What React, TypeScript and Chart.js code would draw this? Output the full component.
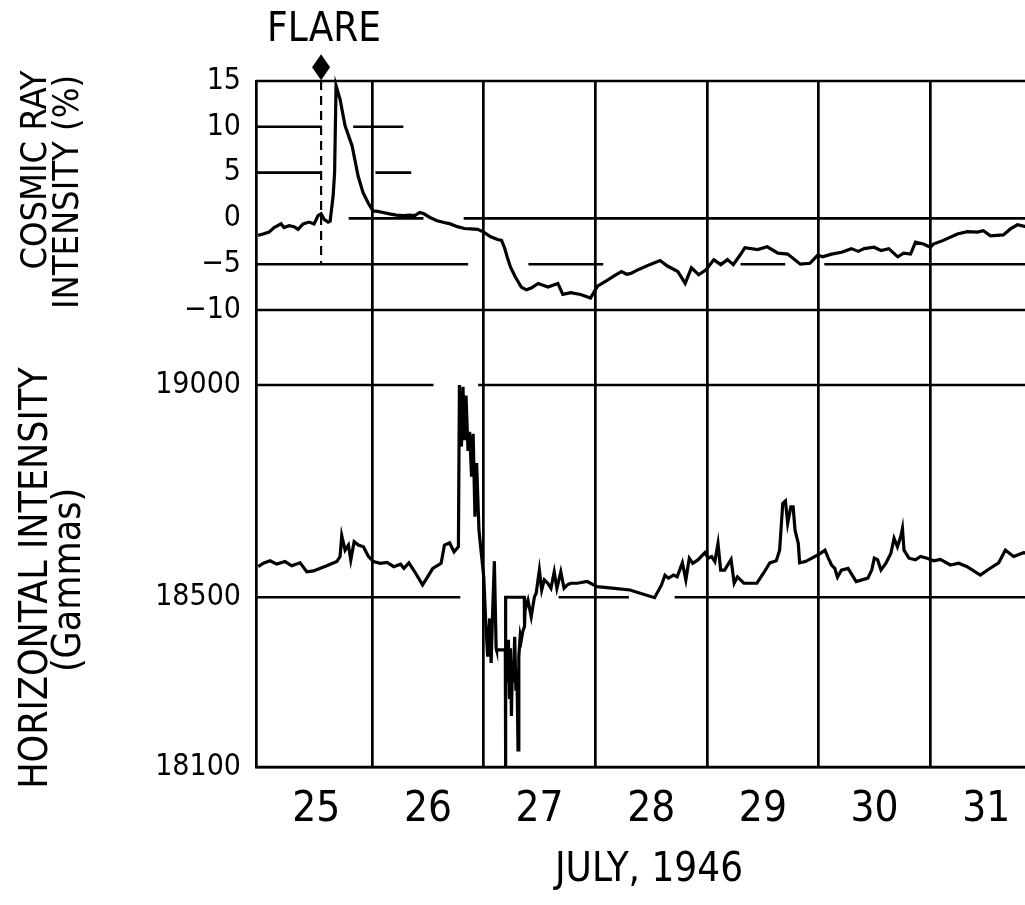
import React, { useEffect, useRef } from 'react';
import { Chart, registerables } from 'chart.js';

Chart.register(...registerables);

// ---------- data ----------
const dayLabelValues = [25.5, 26.5, 27.5, 28.5, 29.5, 30.5, 31.5];
const dayBoundaries = [26, 27, 28, 29, 30, 31];
const cosmicTicks = [15, 10, 5, 0, -5, -10];
const gammaTicks = [19000, 18500, 18100];
const FLARE_DAY = 25.543;
const FLARE_MARK_LEVEL = 16.5;

const cosmicDays = [
  24.979, 25.023, 25.077, 25.122, 25.185, 25.211, 25.256, 25.301, 25.337, 25.382,
  25.435, 25.48, 25.516, 25.543, 25.57, 25.606, 25.624, 25.651, 25.664, 25.677,
  25.713, 25.758, 25.821, 25.875, 25.919, 25.964, 26.009, 26.036, 26.1, 26.155,
  26.218, 26.282, 26.336, 26.382, 26.427, 26.464, 26.518, 26.582, 26.645, 26.7,
  26.764, 26.827, 26.882, 26.945, 27.0, 27.062, 27.124, 27.159, 27.186, 27.212,
  27.239, 27.283, 27.336, 27.381, 27.425, 27.487, 27.575, 27.664, 27.708, 27.779,
  27.867, 27.956, 28.019, 28.112, 28.178, 28.234, 28.28, 28.318, 28.383, 28.486,
  28.579, 28.645, 28.738, 28.804, 28.86, 28.925, 28.991, 29.061, 29.122, 29.183,
  29.235, 29.296, 29.339, 29.452, 29.539, 29.635, 29.722, 29.835, 29.922, 29.991,
  30.035, 30.115, 30.204, 30.292, 30.354, 30.407, 30.496, 30.558, 30.628, 30.708,
  30.761, 30.823, 30.867, 30.938, 31.0, 31.027, 31.116, 31.242, 31.332, 31.421,
  31.475, 31.538, 31.654, 31.717, 31.78, 31.851, 32.0,
];
const cosmicPct = [
  -1.85, -1.7, -1.5, -1.0, -0.6, -1.0, -0.8, -0.9, -1.2, -0.6,
  -0.4, -0.6, 0.3, 0.5, -0.1, -0.4, -0.3, 2.5, 5.0, 14.5,
  13.0, 10.1, 7.9, 4.6, 2.8, 1.7, 0.8, 0.8, 0.65, 0.5,
  0.35, 0.3, 0.35, 0.3, 0.65, 0.5, 0.1, -0.25, -0.45, -0.6,
  -0.9, -1.1, -1.15, -1.2, -1.5, -2.0, -2.3, -2.4, -3.2, -4.3,
  -5.3, -6.4, -7.5, -7.8, -7.6, -7.1, -7.5, -7.1, -8.3, -8.1,
  -8.3, -8.7, -7.4, -6.7, -6.2, -5.8, -6.1, -6.0, -5.6, -5.05,
  -4.6, -5.2, -5.8, -7.1, -5.4, -6.15, -5.6, -4.5, -5.05, -4.5,
  -5.05, -4.0, -3.2, -3.4, -3.1, -3.8, -3.9, -5.0, -4.9, -4.0,
  -4.2, -3.9, -3.7, -3.3, -3.6, -3.3, -3.15, -3.5, -3.3, -4.2,
  -3.8, -3.9, -2.6, -2.8, -3.15, -2.8, -2.4, -1.7, -1.45, -1.5,
  -1.35, -1.9, -1.8, -1.15, -0.7, -0.9, -0.8,
];

const gammaDays = [
  24.98, 25.026, 25.086, 25.146, 25.22, 25.28, 25.355, 25.415, 25.474, 25.594,
  25.684, 25.713, 25.728, 25.758, 25.788, 25.809, 25.839, 25.877, 25.922, 25.967,
  26.012, 26.073, 26.134, 26.194, 26.255, 26.285, 26.33, 26.391, 26.452, 26.497,
  26.543, 26.618, 26.648, 26.694, 26.734, 26.773, 26.782, 26.8, 26.814, 26.827,
  26.841, 26.859, 26.873, 26.891, 26.905, 26.921, 26.936, 26.957, 26.975, 27.0,
  27.018, 27.035, 27.053, 27.066, 27.08, 27.095, 27.111, 27.115, 27.193, 27.195,
  27.197, 27.363, 27.365, 27.365,
  27.204, 27.212, 27.221, 27.23, 27.239, 27.248, 27.257, 27.265, 27.277, 27.288,
  27.297, 27.307, 27.314, 27.327, 27.336, 27.35, 27.365, 27.37, 27.396, 27.425,
  27.454, 27.469, 27.498, 27.519, 27.542, 27.573, 27.602, 27.631, 27.655, 27.69,
  27.719, 27.749, 27.779, 27.838, 27.926, 28.016, 28.171, 28.311, 28.358, 28.53,
  28.592, 28.623, 28.654, 28.701, 28.732, 28.779, 28.81, 28.841, 28.872, 28.918,
  28.981, 29.011, 29.041, 29.07, 29.098, 29.122, 29.157, 29.215, 29.243, 29.272,
  29.33, 29.446, 29.504, 29.562, 29.62, 29.65, 29.678, 29.702, 29.722, 29.75,
  29.771, 29.788, 29.817, 29.829, 29.881, 29.939, 30.012, 30.056, 30.086, 30.115,
  30.144, 30.168, 30.204, 30.263, 30.336, 30.44, 30.475, 30.498, 30.528, 30.558,
  30.602, 30.646, 30.675, 30.705, 30.735, 30.75, 30.764, 30.808, 30.867, 30.912,
  30.971, 31.03, 31.09, 31.179, 31.254, 31.329, 31.448, 31.522, 31.612, 31.672,
  31.746, 31.836, 32.0,
];
const gammaValues: (number | null)[] = [
  18572, 18580, 18586, 18578, 18584, 18574, 18581, 18560, 18562, 18574,
  18584, 18596, 18645, 18611, 18623, 18588, 18631, 18623, 18619, 18596,
  18584, 18580, 18582, 18572, 18578, 18568, 18581, 18556, 18529, 18548,
  18568, 18580, 18623, 18628, 18607, 18619, 19000, 18855, 18996, 18870,
  18975, 18845, 18890, 18784, 18885, 18690, 18816, 18658, 18611, 18548,
  18440, 18360, 18450, 18345, 18470, 18585, 18380, 18376, 18376, 18100,
  18500, 18500, 18440, null,
  18380, 18300, 18400, 18260, 18380, 18220, 18350, 18300, 18407, 18280,
  18330, 18140, 18360, 18410, 18399, 18420, 18431, 18470, 18493, 18454,
  18501, 18509, 18564, 18517, 18541, 18533, 18521, 18560, 18521, 18560,
  18521, 18529, 18533, 18533, 18537, 18525, 18521, 18517, 18513, 18499,
  18529, 18552, 18545, 18552, 18548, 18581, 18541, 18592, 18580, 18588,
  18605, 18592, 18596, 18584, 18627, 18564, 18564, 18589, 18533, 18548,
  18533, 18533, 18556, 18581, 18586, 18611, 18721, 18727, 18674, 18713,
  18713, 18658, 18627, 18581, 18584, 18592, 18603, 18611, 18592, 18576,
  18568, 18547, 18564, 18568, 18537, 18545, 18564, 18592, 18588, 18564,
  18580, 18603, 18639, 18619, 18643, 18662, 18611, 18592, 18588, 18596,
  18592, 18586, 18589, 18576, 18580, 18572, 18552, 18566, 18581, 18611,
  18596, 18605, 18600,
];

// ruled lines of the original chart paper: [level, fromDay, toDay]
const cosmicRules: [number, number, number][] = [
  [15, 24.96, 32], [10, 24.96, 25.55], [10, 25.83, 26.28], [5, 24.96, 25.55], [5, 26.03, 26.35],
  [0, 25.79, 26.46], [0, 26.82, 32], [-5, 24.96, 26.86], [-5, 27.4, 28.07], [-5, 29.3, 29.7],
  [-5, 30.05, 32], [-10, 24.96, 32],
];
const gammaRules: [number, number, number][] = [
  [19000, 24.96, 26.55], [19000, 26.95, 32], [18500, 24.96, 26.79], [18500, 27.67, 28.3],
  [18500, 28.71, 32], [18100, 24.96, 32],
];

const X_MIN = 24.96;
const X_MAX = 32;

const NARROW = '"Liberation Sans Narrow", "DejaVu Sans Condensed", "Liberation Sans", sans-serif';
const TICKFONT = '"DejaVu Sans Condensed", "DejaVu Sans", sans-serif';

function toPoints(xs: number[], ys: (number | null)[]) {
  return xs.map((x, i) => ({ x, y: ys[i] }));
}
function rulePoints(rules: [number, number, number][]) {
  const pts: { x: number; y: number | null }[] = [];
  for (const [v, a, b] of rules) {
    pts.push({ x: a, y: v }, { x: b, y: v }, { x: b, y: null });
  }
  return pts;
}

const textPlugin = {
  id: 'texts',
  afterDraw(chart: any) {
    const ctx = chart.ctx as CanvasRenderingContext2D;
    const xs = chart.scales.x;
    const yC = chart.scales.yC;
    const fx = xs.getPixelForValue(FLARE_DAY);
    const fy = yC.getPixelForValue(FLARE_MARK_LEVEL);
    ctx.save();
    ctx.fillStyle = '#000';
    // flare diamond marker
    ctx.beginPath();
    ctx.moveTo(fx, fy - 13);
    ctx.lineTo(fx + 9, fy);
    ctx.lineTo(fx, fy + 13);
    ctx.lineTo(fx - 9, fy);
    ctx.closePath();
    ctx.fill();
    ctx.textAlign = 'center';
    ctx.textBaseline = 'middle';
    ctx.font = `40px ${NARROW}`;
    ctx.fillText('FLARE', fx + 3, fy - 37);
    const vtext = (t: string, x: number, y: number, size: number) => {
      ctx.save();
      ctx.translate(x, y);
      ctx.rotate(-Math.PI / 2);
      ctx.font = `${size}px ${NARROW}`;
      ctx.fillText(t, 0, 0);
      ctx.restore();
    };
    vtext('COSMIC RAY', 37, 170, 36);
    vtext('INTENSITY (%)', 69, 192, 36);
    vtext('HORIZONTAL INTENSITY', 37, 578, 39);
    vtext('(Gammas)', 70, 580, 39);
    ctx.restore();
  },
};

export default function App() {
  const ref = useRef<HTMLCanvasElement>(null);
  useEffect(() => {
    if (!ref.current) return;
    Chart.defaults.color = '#000';
    const chart = new Chart(ref.current, {
      type: 'line',
      data: {
        datasets: [
          {
            label: 'Cosmic ray intensity',
            data: toPoints(cosmicDays, cosmicPct),
            yAxisID: 'yC',
            borderColor: '#000',
            borderWidth: 3.2,
            pointRadius: 0,
            tension: 0,
            clip: 6,
          },
          {
            label: 'Horizontal intensity',
            data: toPoints(gammaDays, gammaValues),
            yAxisID: 'yH',
            borderColor: '#000',
            borderWidth: 3.2,
            pointRadius: 0,
            tension: 0,
            spanGaps: false,
            clip: 6,
          },
          {
            label: 'cosmic rules',
            data: rulePoints(cosmicRules),
            yAxisID: 'yC',
            borderColor: '#000',
            borderWidth: 2.6,
            pointRadius: 0,
            spanGaps: false,
            clip: 6,
          },
          {
            label: 'gamma rules',
            data: rulePoints(gammaRules),
            yAxisID: 'yH',
            borderColor: '#000',
            borderWidth: 2.6,
            pointRadius: 0,
            spanGaps: false,
            clip: 6,
          },
          {
            label: 'flare line',
            data: [{ x: FLARE_DAY, y: 15 }, { x: FLARE_DAY, y: -5 }],
            yAxisID: 'yC',
            borderColor: '#000',
            borderWidth: 2.2,
            borderDash: [9, 6],
            pointRadius: 0,
            clip: 6,
          },
        ],
      },
      options: {
        animation: false,
        responsive: false,
        devicePixelRatio: 1,
        layout: { padding: { top: 81, right: 3, left: 0, bottom: 0 } },
        plugins: { legend: { display: false }, tooltip: { enabled: false } },
        scales: {
          x: {
            type: 'linear',
            position: 'bottom',
            min: X_MIN,
            max: X_MAX,
            afterBuildTicks: (scale: any) => {
              const vals = [...dayBoundaries, ...dayLabelValues].sort((a, b) => a - b);
              scale.ticks = vals.map((v) => ({ value: v }));
            },
            afterFit: (scale: any) => {
              scale.height = 138;
            },
            grid: {
              drawTicks: false,
              lineWidth: 2.7,
              color: (ctx: any) =>
                ctx.tick && Number.isInteger(ctx.tick.value) ? '#000' : 'rgba(0,0,0,0)',
            },
            border: { display: true, color: '#000', width: 2.6 },
            ticks: {
              autoSkip: false,
              maxRotation: 0,
              padding: 18,
              color: '#000',
              font: { family: NARROW, size: 42 },
              callback: (v: any) => (Number.isInteger(v) ? '' : String(Math.floor(v))),
            },
            title: {
              display: true,
              text: 'JULY, 1946',
              color: '#000',
              font: { family: NARROW, size: 40 },
              padding: { top: 0, bottom: 10 },
            },
          },
          yH: {
            type: 'linear',
            position: 'left',
            stack: 'panels',
            stackWeight: 457,
            min: 18100,
            max: 19176.8,
            afterBuildTicks: (scale: any) => {
              scale.ticks = gammaTicks.map((v) => ({ value: v }));
            },
            afterFit: (scale: any) => {
              scale.width = 256;
            },
            grid: { display: false, drawTicks: false },
            border: { display: true, color: '#000', width: 2.7 },
            ticks: {
              autoSkip: false,
              padding: 15,
              color: '#000',
              font: { family: TICKFONT, size: 30 },
              callback: (v: any) => String(v),
            },
          },
          yC: {
            type: 'linear',
            position: 'left',
            stack: 'panels',
            stackWeight: 229,
            min: -10,
            max: 15,
            afterBuildTicks: (scale: any) => {
              scale.ticks = cosmicTicks.map((v) => ({ value: v }));
            },
            afterFit: (scale: any) => {
              scale.width = 256;
            },
            grid: { display: false, drawTicks: false },
            border: { display: true, color: '#000', width: 2.7 },
            ticks: {
              autoSkip: false,
              padding: 15,
              color: '#000',
              font: { family: TICKFONT, size: 30 },
              callback: (v: any) => (v < 0 ? '\u2212' + Math.abs(v) : String(v)),
            },
          },
        },
      } as any,
      plugins: [textPlugin],
    });
    return () => chart.destroy();
  }, []);

  return (
    <div
      style={{
        position: 'fixed',
        left: 0,
        top: 0,
        width: 1025,
        height: 905,
        overflow: 'hidden',
        background: '#fff',
      }}
    >
      <canvas ref={ref} width={1045} height={905} style={{ display: 'block', width: 1045, height: 905 }} />
    </div>
  );
}
